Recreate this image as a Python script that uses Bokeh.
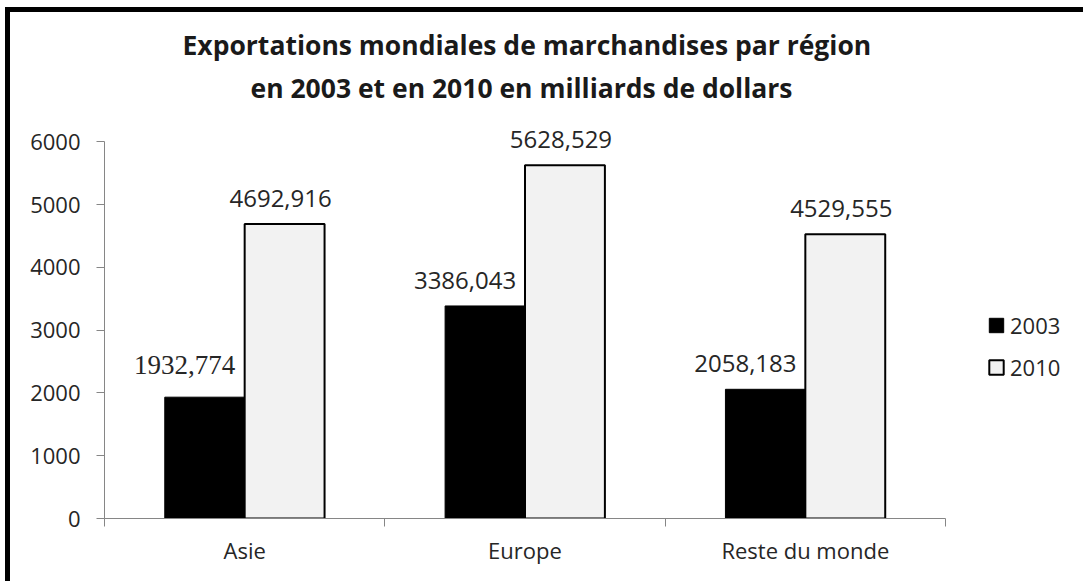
from bokeh.plotting import figure
from bokeh.models import (ColumnDataSource, FixedTicker, Legend, LegendItem, Title)
from bokeh.layouts import column
from bokeh.core.properties import value
from bokeh.embed import file_html
from bokeh.resources import INLINE

# ---- data ----
categories = ["Asie", "Europe", "Reste du monde"]
exports_2003 = [1932.774, 3386.043, 2058.183]
exports_2010 = [4692.916, 5628.529, 4529.555]
labels_2003 = ["1932,774", "3386,043", "2058,183"]
labels_2010 = ["4692,916", "5628,529", "4529,555"]
series_names = ["2003", "2010"]
y_ticks = [0, 1000, 2000, 3000, 4000, 5000, 6000]
title_lines = ["Exportations mondiales de marchandises par région",
               "en 2003 et en 2010 en milliards de dollars"]

# ---- layout helpers ----
n = len(categories)
centers = [i + 0.5 for i in range(n)]
bar_w = 0.285
x03 = [c - bar_w / 2 for c in centers]
x10 = [c + bar_w / 2 for c in centers]

FIG_W, FIG_H = 1073, 569
MB_L, MB_R, MB_B, MB_T = 94, 5, 63, 98
frame_w = FIG_W - MB_L - MB_R
axis_px = 841                      # pixel length of the category axis
x_end = n * frame_w / axis_px      # room on the right for the legend
y_top = 6000
y_end = 6500                       # headroom for labels above the axis

src03 = ColumnDataSource(dict(x=x03, top=exports_2003, lab=labels_2003,
                              font=["Liberation Serif", "Open Sans", "Open Sans"],
                              size=["27px", "24px", "24px"],
                              dy=[-23, -17, -17]))
src10 = ColumnDataSource(dict(x=x10, top=exports_2010, lab=labels_2010))

FONT = "Open Sans"
TXT = "#262626"
AX = "#868686"

p = figure(width=FIG_W, height=FIG_H, x_range=(0, x_end), y_range=(0, y_end),
           output_backend="svg", toolbar_location=None,
           min_border_left=MB_L, min_border_right=MB_R, min_border_bottom=MB_B,
           min_border_top=MB_T)
p.outline_line_color = None
p.xgrid.visible = False
p.ygrid.visible = False

t2 = Title(text=title_lines[1], align="left", text_font=FONT, text_font_size="26.5px",
           text_font_style="bold", text_color="#1a1a1a", offset=146, standoff=10)
t1 = Title(text=title_lines[0], align="left", text_font=FONT, text_font_size="26.5px",
           text_font_style="bold", text_color="#1a1a1a", offset=78, standoff=0)
p.add_layout(t2, "above")
p.add_layout(t1, "above")

r03 = p.vbar(x="x", top="top", width=bar_w, source=src03, fill_color="black",
             line_color="black", line_width=1)
r10 = p.vbar(x="x", top="top", width=bar_w, source=src10, fill_color="#f2f2f2",
             line_color="black", line_width=2)

p.text(x="x", y="top", text="lab", source=src03, text_font="font",
       text_font_size="size", text_align="center", text_baseline="bottom",
       x_offset=-20, y_offset="dy", text_color=TXT)
p.text(x="x", y="top", text="lab", source=src10, text_font=value(FONT),
       text_font_size="24px", text_align="center", text_baseline="bottom",
       x_offset=-4, y_offset=-17, text_color=TXT)

# x axis
xa = p.xaxis[0]
xa.bounds = (0, n)
xa.ticker = FixedTicker(ticks=centers, minor_ticks=list(range(n + 1)))
xa.major_label_overrides = {c: cat for c, cat in zip(centers, categories)}
xa.major_tick_line_color = None
xa.minor_tick_line_color = AX
xa.minor_tick_out = 8
xa.minor_tick_in = 0
xa.axis_line_color = AX
xa.major_label_text_font = FONT
xa.major_label_text_font_size = "22px"
xa.major_label_text_color = TXT
xa.major_label_standoff = 8

ya = p.yaxis[0]
ya.bounds = (0, y_top)
ya.ticker = FixedTicker(ticks=y_ticks)
ya.minor_tick_line_color = None
ya.major_tick_line_color = AX
ya.major_tick_out = 8
ya.major_tick_in = 0
ya.axis_line_color = AX
ya.major_label_text_font = FONT
ya.major_label_text_font_size = "22px"
ya.major_label_text_color = TXT
ya.major_label_standoff = 16

legend = Legend(items=[LegendItem(label=series_names[0], renderers=[r03]),
                       LegendItem(label=series_names[1], renderers=[r10])],
                location=(883, 136), orientation="vertical",
                border_line_color=None, background_fill_alpha=0,
                label_text_font=FONT, label_text_font_size="22px",
                label_text_color=TXT, glyph_width=18, glyph_height=18,
                label_standoff=5, spacing=12, padding=0, margin=0)
p.add_layout(legend, "center")

layout = column(p, styles={"border-left": "5px solid black",
                           "border-top": "5px solid black",
                           "margin-left": "5px", "margin-top": "7px"})

open("out.html", "w").write(file_html(layout, INLINE))
